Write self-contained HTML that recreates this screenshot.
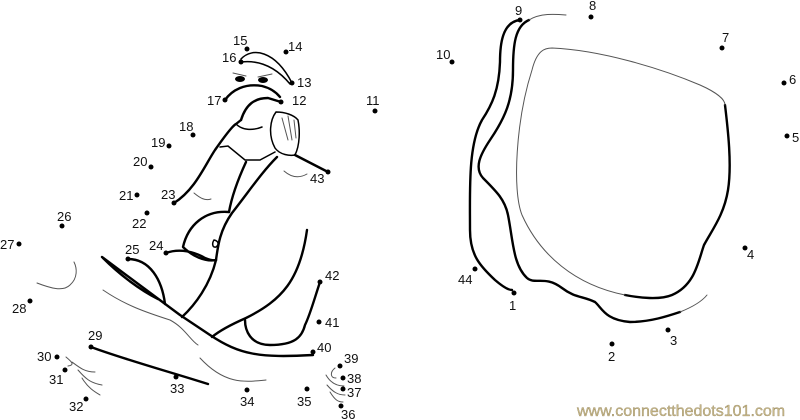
<!DOCTYPE html>
<html><head><meta charset="utf-8"><style>
html,body{margin:0;padding:0;background:#fff;}
svg{display:block}
text{font-family:"Liberation Sans",Arial,sans-serif;font-size:13px;fill:#111}
.k{fill:none;stroke:#000;stroke-width:2.4;stroke-linecap:round;stroke-linejoin:round}
.t{fill:none;stroke:#555;stroke-width:1;stroke-linecap:round}
.m{fill:none;stroke:#000;stroke-width:1.5;stroke-linecap:round}
</style></head><body>
<svg width="800" height="420" viewBox="0 0 800 420" xmlns="http://www.w3.org/2000/svg">
<!-- right shape -->
<path class="k" d="M520,20 C502,22 500,45 500,62 C499,90 492,105 482,120 C468,145 470,190 470,230 C470,255 480,266 495,280 C502,286 508,290 512,290"/>
<path class="k" d="M529,20 C515,26 513,45 513,70 C513,100 505,118 490,140 C480,155 474,168 483,178 C497,192 505,200 508,215 C513,240 513,265 527,278 C535,285 545,275 562,288 C575,298 583,296 595,302 C602,308 605,320 630,322 C650,322 668,316 680,312"/>
<path class="t" d="M529,20 C540,13 555,14 566,15"/>
<path class="t" d="M680,312 C695,306 703,300 707,295"/>
<path class="k" d="M725,105 C728,130 732,165 728,190 C724,215 712,230 704,245 C698,262 695,285 672,295 C660,300 640,298 625,295"/>
<path class="t" d="M625,295 C575,285 540,255 522,215 C512,190 516,120 532,70 C537,50 545,48 552,48 C600,50 660,68 700,85 C718,93 725,100 725,105"/>
<!-- head -->
<path class="m" d="M241,59 C252,47 275,50 292,83"/>
<path class="m" d="M241,62 C258,60 275,66 290,84"/>
<path class="t" d="M233,73 L246,76 M272,74 L258,77"/>
<ellipse cx="240" cy="79" rx="5" ry="3" fill="#000"/>
<ellipse cx="263" cy="80" rx="5" ry="3" fill="#000"/>
<path class="k" d="M225,100 C232,90 245,83 262,86 C270,88 276,92 280,97"/>
<path class="k" d="M241,120 C246,104 255,98 268,98 L281,102"/>
<!-- hand -->
<path class="m" d="M276,112 C270,120 268,135 275,148 C280,155 290,156 295,155 C300,145 300,130 298,120 C294,115 285,112 276,112"/>
<path class="t" d="M282,118 L288,140 M288,116 L292,140 M294,120 L296,138"/>
<path class="k" d="M295,155 L328,172"/>
<path class="t" d="M284,171 C292,178 300,178 307,174"/>
<!-- torso -->
<path class="k" d="M241,120 L236,124 C232,126 222,140 215,150 C205,165 195,190 174,203"/>
<path class="m" d="M236,124 C242,130 252,131 262,127"/>
<path class="m" d="M220,147 L228,146 L245,160 L260,160 L275,152"/>
<path class="k" d="M246,162 C240,175 232,195 229,212"/>
<path class="k" d="M277,157 C262,172 250,190 232,213 C220,230 218,245 216,260 C210,285 195,305 182,317"/>
<path class="t" d="M194,193 C200,198 205,201 211,199"/>
<path class="k" d="M229,212 C205,210 188,225 183,247 C192,256 205,262 216,260"/>
<path class="m" d="M214,240 C212,243 212,248 216,247 C219,245 219,241 214,240"/>
<path class="k" d="M166,253 C180,248 195,252 205,258 C210,260 214,261 216,260"/>
<path class="k" d="M128,259 C150,259 162,280 165,304"/>
<path class="k" d="M307,230 C300,280 282,300 246,318 C230,325 218,332 212,337"/>
<path class="k" d="M102,257 L180,315 L210,335 C240,355 260,358 313,355"/>
<path class="k" d="M103,258 C120,275 140,290 158,299"/>
<path class="k" d="M320,282 C314,300 310,315 305,325 C302,337 295,345 270,345 C250,345 245,330 245,320"/>
<!-- thin lines -->
<path class="t" d="M37,283 C50,288 63,292 70,285 C78,278 77,268 74,262"/>
<path class="t" d="M103,290 C125,305 145,312 170,320 C185,328 190,340 198,345"/>
<path class="t" d="M200,358 C225,385 245,382 266,380"/>
<!-- legs/feet -->
<path class="k" d="M91,347 C120,358 170,372 208,384"/>
<path class="t" d="M66,357 C72,362 75,365 68,366 M72,362 C80,368 85,372 95,372 M78,370 C85,378 90,383 102,385 M82,378 C88,388 95,392 100,395"/>
<path class="t" d="M335,368 C330,372 330,378 336,378 M326,375 C330,382 336,386 344,386 M327,385 C333,392 338,395 345,395 M330,392 C335,400 338,402 343,402"/>
<!-- dots -->
<g fill="#000">
<circle cx="247" cy="49" r="2.5"/><circle cx="286" cy="52" r="2.5"/><circle cx="241" cy="62" r="2.5"/><circle cx="292" cy="83" r="2.5"/>
<circle cx="225" cy="100" r="2.5"/><circle cx="281" cy="102" r="2.5"/><circle cx="375" cy="111" r="2.5"/><circle cx="193" cy="135" r="2.5"/>
<circle cx="169" cy="146" r="2.5"/><circle cx="151" cy="167" r="2.5"/><circle cx="137" cy="195" r="2.5"/><circle cx="174" cy="203" r="2.5"/>
<circle cx="147" cy="213" r="2.5"/><circle cx="62" cy="226" r="2.5"/><circle cx="19" cy="244" r="2.5"/><circle cx="128" cy="259" r="2.5"/>
<circle cx="166" cy="253" r="2.5"/><circle cx="320" cy="282" r="2.5"/><circle cx="30" cy="301" r="2.5"/><circle cx="319" cy="322" r="2.5"/>
<circle cx="91" cy="347" r="2.5"/><circle cx="313" cy="352" r="2.5"/><circle cx="57" cy="357" r="2.5"/><circle cx="340" cy="366" r="2.5"/>
<circle cx="65" cy="370" r="2.5"/><circle cx="343" cy="378" r="2.5"/><circle cx="176" cy="377" r="2.5"/><circle cx="343" cy="389" r="2.5"/>
<circle cx="247" cy="390" r="2.5"/><circle cx="307" cy="389" r="2.5"/><circle cx="86" cy="399" r="2.5"/><circle cx="341" cy="406" r="2.5"/>
<circle cx="328" cy="172" r="2.5"/>
<circle cx="520" cy="20" r="2.5"/><circle cx="591" cy="17" r="2.5"/><circle cx="452" cy="62" r="2.5"/><circle cx="722" cy="48" r="2.5"/>
<circle cx="784" cy="83" r="2.5"/><circle cx="787" cy="136" r="2.5"/><circle cx="745" cy="248" r="2.5"/><circle cx="475" cy="269" r="2.5"/>
<circle cx="514" cy="293" r="2.5"/><circle cx="668" cy="330" r="2.5"/><circle cx="612" cy="344" r="2.5"/>
</g>
<g>
<text x="233" y="45">15</text><text x="288" y="51">14</text><text x="222" y="62">16</text><text x="297" y="87">13</text>
<text x="207" y="105">17</text><text x="292" y="105">12</text><text x="366" y="105">11</text><text x="179" y="131">18</text>
<text x="151" y="147">19</text><text x="133" y="166">20</text><text x="119" y="200">21</text><text x="161" y="199">23</text>
<text x="132" y="228">22</text><text x="57" y="221">26</text><text x="0" y="249">27</text><text x="125" y="254">25</text>
<text x="149" y="250">24</text><text x="325" y="280">42</text><text x="12" y="313">28</text><text x="325" y="327">41</text>
<text x="88" y="340">29</text><text x="317" y="352">40</text><text x="37" y="361">30</text><text x="344" y="363">39</text>
<text x="49" y="384">31</text><text x="347" y="383">38</text><text x="170" y="393">33</text><text x="347" y="397">37</text>
<text x="240" y="406">34</text><text x="297" y="406">35</text><text x="69" y="411">32</text><text x="341" y="419">36</text>
<text x="310" y="183">43</text>
<text x="515" y="15">9</text><text x="589" y="10">8</text><text x="436" y="59">10</text><text x="722" y="42">7</text>
<text x="789" y="84">6</text><text x="792" y="142">5</text><text x="747" y="259">4</text><text x="458" y="284">44</text>
<text x="509" y="310">1</text><text x="670" y="345">3</text><text x="608" y="361">2</text>
</g>
<text x="577" y="416" style="font-size:16px;fill:#c8b98a;stroke:#8a7a50;stroke-width:0.3">www.connectthedots101.com</text>
</svg>
</body></html>
